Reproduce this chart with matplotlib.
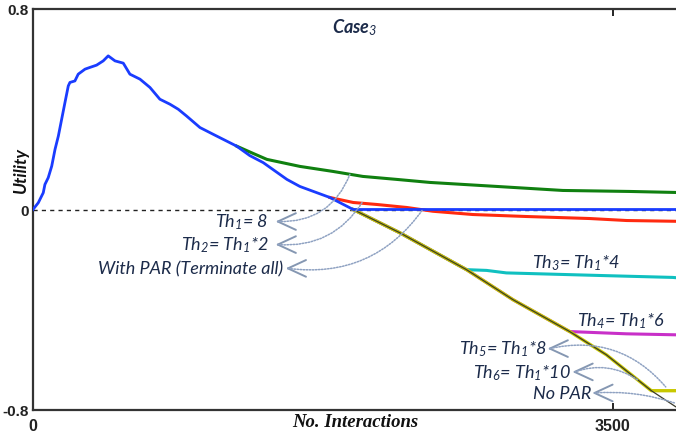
import matplotlib
matplotlib.use("Agg")
import matplotlib.pyplot as plt

plt.rcParams['mathtext.fontset'] = 'custom'
plt.rcParams['mathtext.rm'] = 'Lato:italic'
plt.rcParams['mathtext.it'] = 'Lato:italic'

# ---- data ----
# common curve, then "With PAR (Terminate all)" stays at zero
blue_x = [0, 32, 62, 72, 92, 113, 133, 153, 173, 193, 213, 223, 253, 273, 314, 344, 384, 424, 454,
          495, 545, 585, 646, 706, 766, 827, 877, 927, 1008, 1088, 1169, 1229, 1309, 1390, 1533,
          1611, 1792, 1933, 3900]
blue_y = [0.0, 0.027, 0.067, 0.10, 0.127, 0.173, 0.24, 0.293, 0.36, 0.427, 0.493, 0.507, 0.513,
          0.54, 0.56, 0.567, 0.576, 0.593, 0.613, 0.593, 0.584, 0.54, 0.52, 0.487, 0.44, 0.42,
          0.40, 0.373, 0.327, 0.30, 0.273, 0.253, 0.215, 0.187, 0.12, 0.092, 0.048, 0.0, 0.0]

th1_x = [1229, 1328, 1412, 1611, 1810, 1991, 2197, 2396, 2800, 3198, 3603, 3880]
th1_y = [0.253, 0.224, 0.20, 0.172, 0.152, 0.132, 0.12, 0.108, 0.092, 0.076, 0.072, 0.068]

th2_x = [1792, 1933, 2076, 2257, 2414, 2655, 2981, 3361, 3585, 3880]
th2_y = [0.048, 0.028, 0.02, 0.008, -0.007, -0.02, -0.028, -0.036, -0.044, -0.047]

nopar_x = [1933, 2215, 2617, 2898, 3240, 3462, 3733, 3880]
nopar_y = [0.0, -0.093, -0.24, -0.36, -0.487, -0.58, -0.723, -0.787]

th3_x = [1933, 2215, 2617, 2738, 2858, 3462, 3862, 3880]
th3_y = [0.0, -0.093, -0.24, -0.243, -0.253, -0.264, -0.271, -0.272]

th4_x = [1933, 2215, 2617, 2898, 3240, 3582, 3880]
th4_y = [0.0, -0.093, -0.24, -0.36, -0.487, -0.496, -0.50]

th5_x = [1933, 2215, 2617, 2898, 3240, 3462, 3733, 3880]
th5_y = [0.0, -0.093, -0.24, -0.36, -0.487, -0.58, -0.723, -0.723]

x_ticks = [0, 3500]
x_ticklabels = ['0', '3500']
y_ticks = [-0.8, 0, 0.8]
y_ticklabels = ['-0.8', '0', '0.8']

# ---- figure ----
fig = plt.figure(figsize=(6.76, 4.39), dpi=100)
ax = fig.add_axes([33 / 676, 28 / 439, 646 / 676, 401 / 439])
ax.set_xlim(0, 3900)
ax.set_ylim(-0.8, 0.8)

ax.axhline(0, color='#222222', lw=1.0, ls=(0, (3, 3)), zorder=1)

ax.plot(th1_x, th1_y, color='#108010', lw=2.2, zorder=2)
ax.plot(th2_x, th2_y, color='#ff2a10', lw=2.2, zorder=2)
ax.plot(th3_x, th3_y, color='#10c0c0', lw=2.2, zorder=2)
ax.plot(th4_x, th4_y, color='#c830c8', lw=2.2, zorder=2)
ax.plot(th5_x, th5_y, color='#c8c800', lw=2.4, zorder=3)
ax.plot(nopar_x, nopar_y, color='#3a3a2a', lw=0.9, zorder=4)
ax.plot(blue_x, blue_y, color='#1a3cff', lw=2.0, zorder=5)

# axes styling
for s in ['left', 'bottom', 'top']:
    ax.spines[s].set_color('#333333')
    ax.spines[s].set_linewidth(1.6)
ax.spines['right'].set_visible(False)
ax.set_xticks(x_ticks)
ax.set_xticklabels(x_ticklabels)
ax.set_yticks(y_ticks)
ax.set_yticklabels(y_ticklabels)
ax.tick_params(axis='x', direction='in', length=5, width=1.2, top=True, pad=6,
               labelsize=11.5, labelcolor='#222222')
ax.tick_params(axis='y', direction='in', length=0, pad=3, labelsize=11, labelcolor='#222222')
for lab in ax.get_xticklabels() + ax.get_yticklabels():
    lab.set_family(['Liberation Sans Narrow', 'Liberation Sans'])
    lab.set_fontweight('bold')

ax.set_ylabel('Utility', family='Lato', style='italic', fontweight='bold', fontsize=12.5,
              color='#111111')
ax.yaxis.set_label_coords(-0.006, 0.6)
ax.text(355 / 676, 1 - 423 / 439, 'No. Interactions', transform=fig.transFigure,
        family='Liberation Serif', style='italic', fontweight='bold', fontsize=13.5,
        ha='center', va='center', color='#111111')

txt = dict(family='Lato', style='italic', fontsize=13, color='#1c2b4a')
ax.text(1943, 0.73, 'Case$_3$', ha='center', va='center', fontweight='bold', **txt)

arrow_col = '#8597b2'


def chevron(tx, ty):
    for dy in (6, -6):
        ax.annotate('', xy=(tx, ty), xytext=(13, dy), textcoords='offset points',
                    arrowprops=dict(arrowstyle='-', color=arrow_col, lw=1.4,
                                    shrinkA=0, shrinkB=0), zorder=6)


def label(tx, ty, s, tgt, rad, gap=40):
    ax.text(tx - gap, ty, s, ha='right', va='center', zorder=6, **txt)
    chevron(tx, ty)
    ax.annotate('', xy=tgt, xytext=(tx, ty),
                arrowprops=dict(arrowstyle='-', color='#8fa2c2', lw=1.1, ls=(0, (1, 1)),
                                connectionstyle='arc3,rad=%s' % rad, shrinkA=0, shrinkB=0),
                zorder=6)


label(1478, -0.048, 'Th$_1$= 8', (1913, 0.14), 0.35, gap=60)
label(1478, -0.14, 'Th$_2$= Th$_1$*2', (1991, 0.032), 0.3, gap=55)
label(1539, -0.235, 'With PAR (Terminate all)', (2353, 0.0), 0.3, gap=30)
label(3120, -0.555, 'Th$_5$= Th$_1$*8', (3820, -0.708), -0.3, gap=20)
label(3270, -0.648, 'Th$_6$= Th$_1$*10', (3650, -0.68), -0.25, gap=20)
label(3390, -0.732, 'No PAR', (3874, -0.772), -0.1, gap=20)

ax.text(3277, -0.212, 'Th$_3$= Th$_1$*4', ha='center', va='center', **txt)
ax.text(3548, -0.44, 'Th$_4$= Th$_1$*6', ha='center', va='center', **txt)

fig.savefig('out.png', dpi=100)
